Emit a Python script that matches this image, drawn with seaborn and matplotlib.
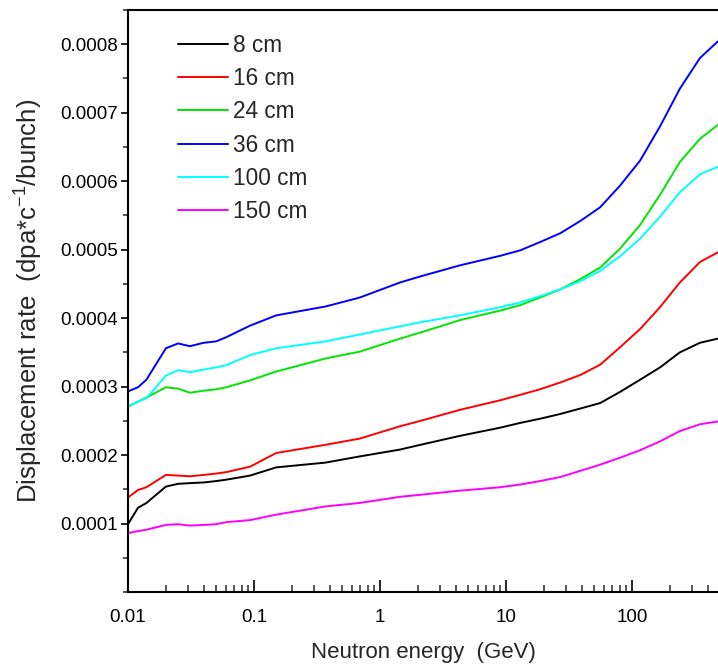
import numpy as np
import pandas as pd
import matplotlib
matplotlib.use("Agg")
import matplotlib.pyplot as plt
import matplotlib.ticker as mticker
import seaborn as sns

# Neutron energy (GeV)
energy = [0.01, 0.012, 0.014, 0.02, 0.025, 0.031, 0.04, 0.05, 0.06, 0.093,
          0.15, 0.37, 0.69, 1.44, 2.1, 4.3, 9, 13, 18.6, 27, 39, 56, 80,
          116, 167, 240, 347, 480]

# displacement rate, in units of 1e-4 dpa*c^-1/bunch
rate_8 = [0.99, 1.23, 1.30, 1.54, 1.58, 1.59, 1.60, 1.62, 1.64, 1.70, 1.82,
          1.89, 1.98, 2.08, 2.15, 2.28, 2.40, 2.47, 2.53, 2.60, 2.68, 2.76,
          2.92, 3.10, 3.28, 3.50, 3.64, 3.70]
rate_16 = [1.38, 1.49, 1.53, 1.71, 1.70, 1.69, 1.71, 1.73, 1.75, 1.83, 2.03,
           2.15, 2.24, 2.42, 2.50, 2.66, 2.80, 2.88, 2.96, 3.06, 3.17, 3.32,
           3.57, 3.84, 4.16, 4.52, 4.82, 4.96]
rate_24 = [2.71, 2.78, 2.84, 2.99, 2.97, 2.91, 2.94, 2.96, 2.99, 3.09, 3.22,
           3.41, 3.51, 3.70, 3.79, 3.97, 4.11, 4.19, 4.30, 4.42, 4.57, 4.74,
           5.01, 5.36, 5.80, 6.28, 6.62, 6.82]
rate_36 = [2.93, 2.99, 3.10, 3.56, 3.63, 3.59, 3.64, 3.66, 3.72, 3.89, 4.04,
           4.17, 4.30, 4.52, 4.61, 4.77, 4.91, 4.99, 5.11, 5.24, 5.42, 5.62,
           5.93, 6.30, 6.80, 7.35, 7.80, 8.04]
rate_100 = [2.71, 2.78, 2.83, 3.16, 3.24, 3.21, 3.25, 3.28, 3.31, 3.46, 3.56,
            3.66, 3.76, 3.88, 3.94, 4.04, 4.16, 4.23, 4.32, 4.42, 4.54, 4.69,
            4.90, 5.16, 5.48, 5.84, 6.10, 6.21]
rate_150 = [0.86, 0.89, 0.91, 0.98, 0.99, 0.97, 0.98, 0.99, 1.02, 1.05, 1.13,
            1.25, 1.30, 1.39, 1.42, 1.48, 1.53, 1.57, 1.62, 1.68, 1.77, 1.86,
            1.96, 2.07, 2.20, 2.35, 2.45, 2.49]

depths = ["8 cm", "16 cm", "24 cm", "36 cm", "100 cm", "150 cm"]
colors = ["#000000", "#ff0000", "#00e600", "#0000ff", "#00ffff", "#ff00ff"]

series = [rate_8, rate_16, rate_24, rate_36, rate_100, rate_150]
frames = []
for name, vals in zip(depths, series):
    frames.append(pd.DataFrame({"energy": energy,
                                "rate": np.array(vals) * 1e-4,
                                "depth": name}))
df = pd.concat(frames, ignore_index=True)

sns.set_theme(style="ticks")
plt.rcParams["font.family"] = ["Liberation Sans", "DejaVu Sans"]

fig = plt.figure(figsize=(7.18, 6.68), dpi=100)
ax = fig.add_axes([128 / 718, (668 - 592) / 668, 590 / 718, 582 / 668])

sns.lineplot(data=df, x="energy", y="rate", hue="depth", hue_order=depths,
             palette=dict(zip(depths, colors)), sort=False, linewidth=1.4,
             ax=ax)

ax.set_xscale("log")
ax.set_xlim(0.01, 482)
ax.set_ylim(0, 0.00085)

ax.set_xticks([0.01, 0.1, 1, 10, 100])
ax.xaxis.set_major_formatter(mticker.FuncFormatter(lambda v, p: "%g" % v))
ax.xaxis.set_minor_locator(mticker.LogLocator(base=10, subs=np.arange(2, 10)))
ax.xaxis.set_minor_formatter(mticker.NullFormatter())
ax.set_yticks([0.0001, 0.0002, 0.0003, 0.0004, 0.0005, 0.0006, 0.0007, 0.0008])
ax.yaxis.set_major_formatter(mticker.FormatStrFormatter("%.4f"))
ax.yaxis.set_minor_locator(mticker.MultipleLocator(0.00005))

for side in ["left", "bottom", "top"]:
    ax.spines[side].set_linewidth(1.5)
    ax.spines[side].set_color("black")
ax.spines["right"].set_visible(False)

ax.tick_params(axis="x", which="major", direction="in", length=8.5, width=1.2,
               pad=12, labelsize=13.5, colors="black")
ax.tick_params(axis="x", which="minor", direction="in", length=4.8, width=1.1)
ax.tick_params(axis="y", which="major", direction="out", length=5, width=1.2,
               pad=2, labelsize=13.5, colors="black")
ax.tick_params(axis="y", which="minor", direction="out", length=3.6, width=1.1)

ax.set_xlabel("Neutron energy  (GeV)", fontsize=16, labelpad=12)
ax.set_ylabel("Displacement rate  (dpa*c$^{\\mathregular{-1}}$/bunch)",
              fontsize=18.5, labelpad=12)

handles, labels = ax.get_legend_handles_labels()
ax.legend(handles, labels, loc="upper left",
          bbox_to_anchor=(178 / 718, 1 - 34 / 668),
          bbox_transform=fig.transFigure, frameon=False, fontsize=16.3,
          handlelength=2.2, handletextpad=0.22, labelspacing=0.45,
          borderpad=0, borderaxespad=0)

fig.savefig("out.png", dpi=100)
